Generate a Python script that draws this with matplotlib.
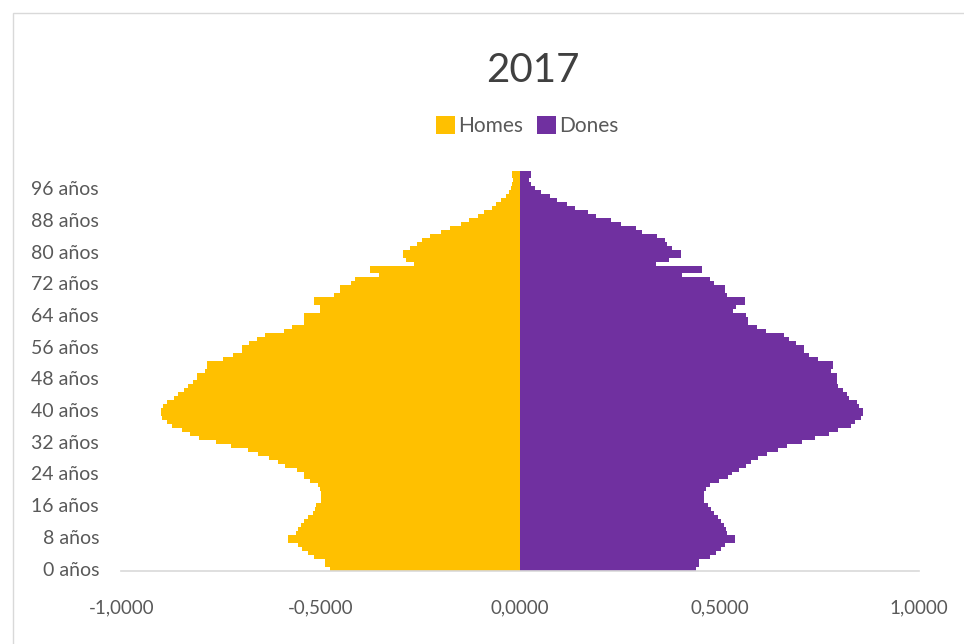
import matplotlib.pyplot as plt
from matplotlib.patches import Rectangle
from matplotlib.ticker import FuncFormatter

plt.rcParams['font.family'] = ['Lato', 'DejaVu Sans']

# edats 0..100 (valors en % de la poblacio)
edats = list(range(0, 101))
homes = [0.476, 0.489, 0.489, 0.518, 0.532, 0.546, 0.556, 0.583, 0.583, 0.563,
         0.558, 0.550, 0.543, 0.532, 0.520, 0.514, 0.512, 0.499, 0.499, 0.499,
         0.501, 0.507, 0.526, 0.543, 0.543, 0.560, 0.589, 0.606, 0.631, 0.658,
         0.683, 0.726, 0.763, 0.805, 0.829, 0.849, 0.872, 0.886, 0.897, 0.900,
         0.900, 0.895, 0.886, 0.867, 0.859, 0.844, 0.832, 0.819, 0.811, 0.811,
         0.790, 0.786, 0.786, 0.746, 0.721, 0.698, 0.698, 0.679, 0.660, 0.639,
         0.593, 0.573, 0.543, 0.543, 0.541, 0.501, 0.501, 0.516, 0.516, 0.468,
         0.453, 0.453, 0.425, 0.414, 0.353, 0.376, 0.376, 0.267, 0.287, 0.295,
         0.295, 0.276, 0.259, 0.247, 0.226, 0.198, 0.175, 0.148, 0.129, 0.106,
         0.090, 0.072, 0.060, 0.048, 0.037, 0.027, 0.022, 0.020, 0.018, 0.021,
         0.021]
dones = [0.440, 0.448, 0.448, 0.476, 0.491, 0.502, 0.513, 0.537, 0.537, 0.519,
         0.515, 0.511, 0.502, 0.496, 0.485, 0.477, 0.471, 0.461, 0.461, 0.461,
         0.466, 0.476, 0.498, 0.521, 0.530, 0.548, 0.565, 0.578, 0.597, 0.619,
         0.646, 0.668, 0.707, 0.738, 0.774, 0.797, 0.830, 0.839, 0.855, 0.858,
         0.858, 0.849, 0.845, 0.824, 0.820, 0.808, 0.797, 0.795, 0.795, 0.795,
         0.778, 0.784, 0.784, 0.747, 0.724, 0.710, 0.710, 0.691, 0.674, 0.660,
         0.615, 0.594, 0.571, 0.571, 0.565, 0.532, 0.540, 0.563, 0.563, 0.518,
         0.513, 0.513, 0.486, 0.476, 0.406, 0.455, 0.455, 0.339, 0.374, 0.404,
         0.404, 0.381, 0.368, 0.362, 0.343, 0.306, 0.289, 0.253, 0.228, 0.191,
         0.169, 0.138, 0.116, 0.092, 0.074, 0.052, 0.038, 0.026, 0.021, 0.027,
         0.027]
etiquetes_y = [0, 8, 16, 24, 32, 40, 48, 56, 64, 72, 80, 88, 96]
ticks_x = [-1.0, -0.5, 0.0, 0.5, 1.0]

fig = plt.figure(figsize=(9.64, 6.44), dpi=100)
fig.patches.append(Rectangle((13 / 964, -0.05), 1.2, 1 - 13 / 644 + 0.05,
                             transform=fig.transFigure, fill=False,
                             edgecolor='#D9D9D9', linewidth=1))

ax = fig.add_axes([0.1258, 0.1141, 0.8278, 0.6211])
ax.barh(edats, [-h for h in homes], height=1.0, color='#FFC000', label='Homes')
ax.barh(edats, dones, height=1.0, color='#7030A0', label='Dones')

ax.set_xlim(-1.0, 1.0)
ax.set_ylim(-0.5, 100.5)
ax.set_xticks(ticks_x)
ax.xaxis.set_major_formatter(FuncFormatter(lambda v, p: f'{v:.4f}'.replace('.', ',')))
ax.set_yticks(etiquetes_y)
ax.set_yticklabels([f'{e} años' for e in etiquetes_y])

for s in ['top', 'right', 'left']:
    ax.spines[s].set_visible(False)
ax.spines['bottom'].set_color('#D9D9D9')
ax.spines['bottom'].set_linewidth(1.2)
ax.tick_params(axis='both', length=0, colors='#595959')
ax.tick_params(axis='x', pad=21, labelsize=13.5)
ax.tick_params(axis='y', pad=16, labelsize=14)

fig.text(0.553, 0.891, '2017', ha='center', va='center', fontsize=29, color='#404040')
fig.legend(loc='center', bbox_to_anchor=(0.547, 0.804), ncol=2, frameon=False,
           fontsize=15, handlelength=0.9, handleheight=0.9, handletextpad=0.15,
           columnspacing=0.7, labelcolor='#595959')

fig.savefig('out.png', dpi=100)
